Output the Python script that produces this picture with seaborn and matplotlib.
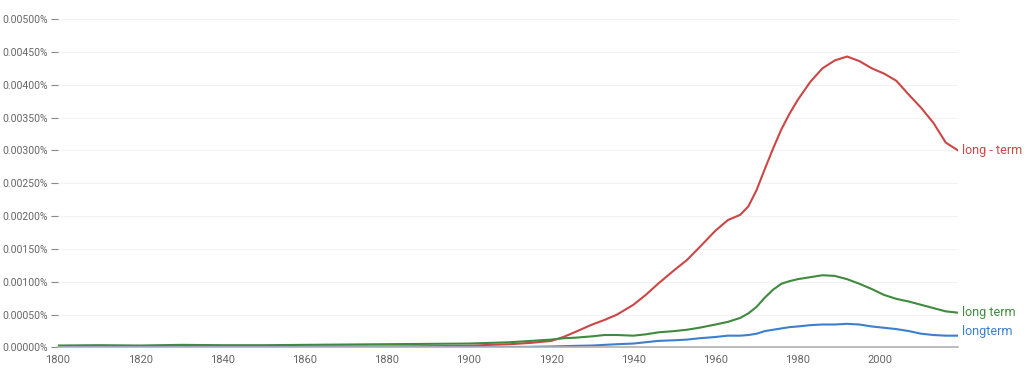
import matplotlib
matplotlib.use("Agg")
import matplotlib.pyplot as plt
import matplotlib.ticker as mticker
import seaborn as sns
import pandas as pd

years = [1800, 1810, 1820, 1830, 1840, 1850, 1860, 1870, 1880, 1890, 1900, 1905, 1910,
         1915, 1920, 1923, 1926, 1930, 1933, 1936, 1940, 1943, 1946, 1950, 1953, 1956,
         1960, 1963, 1966, 1968, 1970, 1972, 1974, 1976, 1978, 1980, 1983, 1986, 1989,
         1992, 1995, 1998, 2001, 2004, 2007, 2010, 2013, 2016, 2019]

long_dash_term = [0.00001, 0.00001, 0.00001, 0.000015, 0.00001, 0.00001, 0.000012, 0.000015,
                  0.000015, 0.00002, 0.000025, 0.00004, 0.00005, 0.00007, 0.0001, 0.00016,
                  0.00024, 0.00035, 0.00042, 0.0005, 0.00065, 0.0008, 0.00097, 0.00118,
                  0.00133, 0.00152, 0.00178, 0.00194, 0.00202, 0.00215, 0.0024, 0.00272,
                  0.00303, 0.00332, 0.00356, 0.00377, 0.00404, 0.00425, 0.00437, 0.00443,
                  0.00436, 0.00425, 0.00417, 0.00406, 0.00385, 0.00365, 0.00342, 0.00312,
                  0.003]

long_term = [0.00003, 0.000035, 0.00003, 0.00004, 0.000035, 0.000035, 0.00004, 0.000045,
             0.00005, 0.000055, 0.00006, 0.00007, 0.00008, 0.0001, 0.00012, 0.00014,
             0.00015, 0.00017, 0.00019, 0.00019, 0.00018, 0.0002, 0.00023, 0.00025,
             0.00027, 0.0003, 0.00035, 0.00039, 0.00045, 0.00052, 0.00062, 0.00076,
             0.00088, 0.00097, 0.00101, 0.00104, 0.00107, 0.0011, 0.00109, 0.00104,
             0.00097, 0.00089, 0.0008, 0.00074, 0.0007, 0.00065, 0.0006, 0.00055, 0.00053]

longterm = [0.000005, 0.000005, 0.000005, 0.000005, 0.000005, 0.000005, 0.000005, 0.000005,
            0.000005, 0.000005, 0.000005, 0.000005, 0.000008, 0.00001, 0.000015, 0.00002,
            0.000025, 0.00003, 0.00004, 0.00005, 0.00006, 0.00008, 0.0001, 0.00011,
            0.00012, 0.00014, 0.00016, 0.00018, 0.00018, 0.00019, 0.00021, 0.00025,
            0.00027, 0.00029, 0.00031, 0.00032, 0.00034, 0.00035, 0.00035, 0.00036,
            0.00035, 0.00032, 0.0003, 0.00028, 0.00025, 0.00021, 0.00019, 0.00018, 0.00018]

series_names = ["long - term", "long term", "longterm"]
series_values = [long_dash_term, long_term, longterm]
colors = ["#cc4646", "#3f8a3f", "#3b7fcf"]
yticks = [i * 0.0005 for i in range(11)]
xticks = [1800, 1820, 1840, 1860, 1880, 1900, 1920, 1940, 1960, 1980, 2000]

rows = []
for name, vals in zip(series_names, series_values):
    for y, v in zip(years, vals):
        rows.append({"year": y, "value": v, "series": name})
df = pd.DataFrame(rows)

sns.set_style("white")
plt.rcParams["font.family"] = ["Roboto", "DejaVu Sans"]

fig = plt.figure(figsize=(10.24, 3.69), dpi=100)
ax = fig.add_axes([0.0566, 0.0583, 0.879, 0.890])

sns.lineplot(data=df, x="year", y="value", hue="series", hue_order=series_names,
             palette=colors, linewidth=1.5, legend=False, ax=ax)

ax.set_xlim(1800, 2019)
ax.set_ylim(0, 0.005)
ax.set_yticks(yticks)
ax.set_xticks(xticks)
ax.yaxis.set_major_formatter(mticker.FuncFormatter(lambda v, p: f"{v:.5f}%"))
ax.set_xlabel("")
ax.set_ylabel("")
ax.grid(axis="y", color="#f2f2f2", linewidth=0.8)
ax.set_axisbelow(True)
for s in ["top", "right", "left"]:
    ax.spines[s].set_visible(False)
ax.spines["bottom"].set_color("#b0b0b0")
ax.spines["bottom"].set_linewidth(1.2)
ax.tick_params(axis="y", length=5, width=0.8, color="#888888", labelcolor="#666666",
               labelsize=7.5, pad=2, direction="out")
ax.tick_params(axis="x", length=4, width=0.8, color="#888888", labelcolor="#666666",
               labelsize=8, pad=1.5)
ax.tick_params(axis="y", which="major", left=True)

label_offsets = [0.0, 0.0, 0.00006]
for name, vals, c, off in zip(series_names, series_values, colors, label_offsets):
    ax.text(2020, vals[-1] + off, name, color=c, fontsize=9, va="center", ha="left",
            clip_on=False)

fig.savefig("out.png", dpi=100)
